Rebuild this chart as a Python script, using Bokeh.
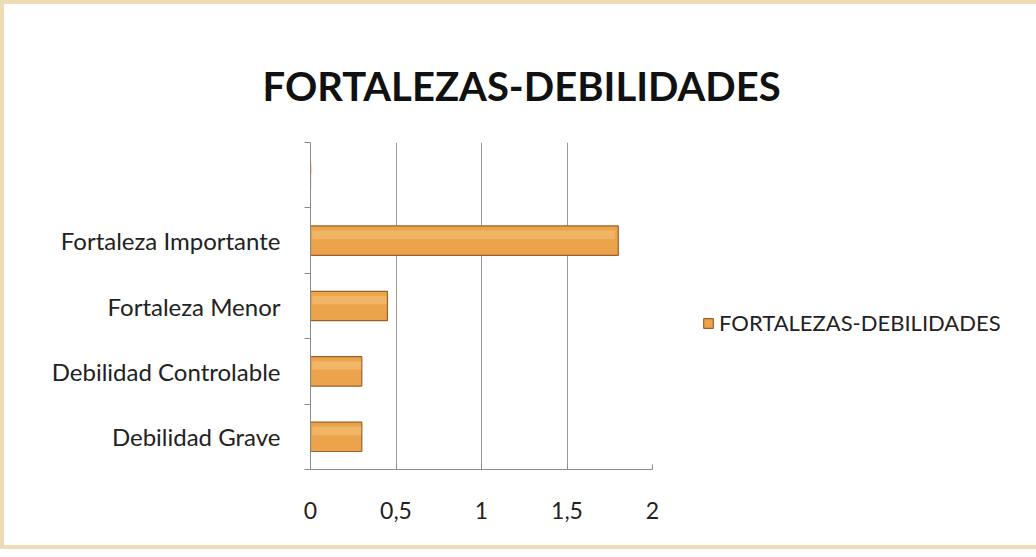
from bokeh.plotting import figure
from bokeh.models import FixedTicker, Legend, LegendItem, Range1d
from bokeh.embed import file_html
from bokeh.resources import INLINE

categories = ["Debilidad Grave", "Debilidad Controlable", "Fortaleza Menor", "Fortaleza Importante", ""]
values = [0.3, 0.3, 0.45, 1.8, 0]
series_name = "FORTALEZAS-DEBILIDADES"
x_ticks = [0, 0.5, 1, 1.5, 2]
x_tick_labels = ["0", "0,5", "1", "1,5", "2"]

centers = [i + 0.5 for i in range(len(categories))]

p = figure(frame_width=342, frame_height=327, output_backend="svg", toolbar_location=None,
           x_range=Range1d(0, 2), y_range=Range1d(0, len(categories)),
           min_border_left=306, min_border_right=372, min_border_top=138, min_border_bottom=76)
p.styles = {"border": "4px solid #eedcb6", "box-sizing": "border-box"}
p.background_fill_color = "white"
p.border_fill_color = "white"
p.outline_line_color = None

r = p.hbar(y=centers, right=values, left=0, height=0.45,
           fill_color="#eba44c", line_color="#9c6128", line_width=1.2)
# soft highlight on top of bars
p.hbar(y=[c + 0.09 for c in centers], right=[v * 0.99 for v in values], left=0.01, height=0.13,
       fill_color="#f4c37a", line_color=None, fill_alpha=0.55)

p.title.text = "FORTALEZAS-DEBILIDADES"
p.title.text_font = "Lato"
p.title.text_font_size = "40px"
p.title.text_font_style = "bold"
p.title.align = "left"
p.title.offset = -48
p.title.standoff = 66
p.title.text_color = "#111111"

p.xaxis.ticker = FixedTicker(ticks=x_ticks)
p.xaxis.major_label_overrides = {t: l for t, l in zip(x_ticks, x_tick_labels)}
p.xaxis.major_label_text_font = "Lato"
p.xaxis.major_label_text_font_size = "23px"
p.xaxis.major_label_text_color = "#222222"
p.xaxis.axis_line_color = "#8a8a8a"
p.xaxis.major_tick_line_color = "#8a8a8a"
p.xaxis.major_tick_in = 5
p.xaxis.major_tick_out = 0
p.xaxis.minor_tick_line_color = None
p.xaxis.major_label_standoff = 32

p.yaxis.ticker = FixedTicker(ticks=centers, minor_ticks=list(range(len(categories) + 1)))
p.yaxis.major_label_overrides = {c: n for c, n in zip(centers, categories)}
p.yaxis.major_label_text_font = "Lato"
p.yaxis.major_label_text_font_size = "24px"
p.yaxis.major_label_text_color = "#222222"
p.yaxis.axis_line_color = "#8a8a8a"
p.yaxis.major_tick_line_color = None
p.yaxis.minor_tick_line_color = "#8a8a8a"
p.yaxis.minor_tick_out = 6
p.yaxis.minor_tick_in = 0
p.yaxis.major_label_standoff = 24

p.xgrid.ticker = FixedTicker(ticks=x_ticks)
p.xgrid.grid_line_color = "#9a9a9a"
p.ygrid.grid_line_color = None

legend = Legend(items=[LegendItem(label=series_name, renderers=[r])],
                location=(50, 133), border_line_color=None, background_fill_alpha=0,
                label_text_font="Lato", label_text_font_size="22px", label_text_color="#222222",
                glyph_width=12, glyph_height=12, label_standoff=5, margin=0, padding=0)
p.add_layout(legend, "right")

open("out.html", "w").write(file_html(p, INLINE))
